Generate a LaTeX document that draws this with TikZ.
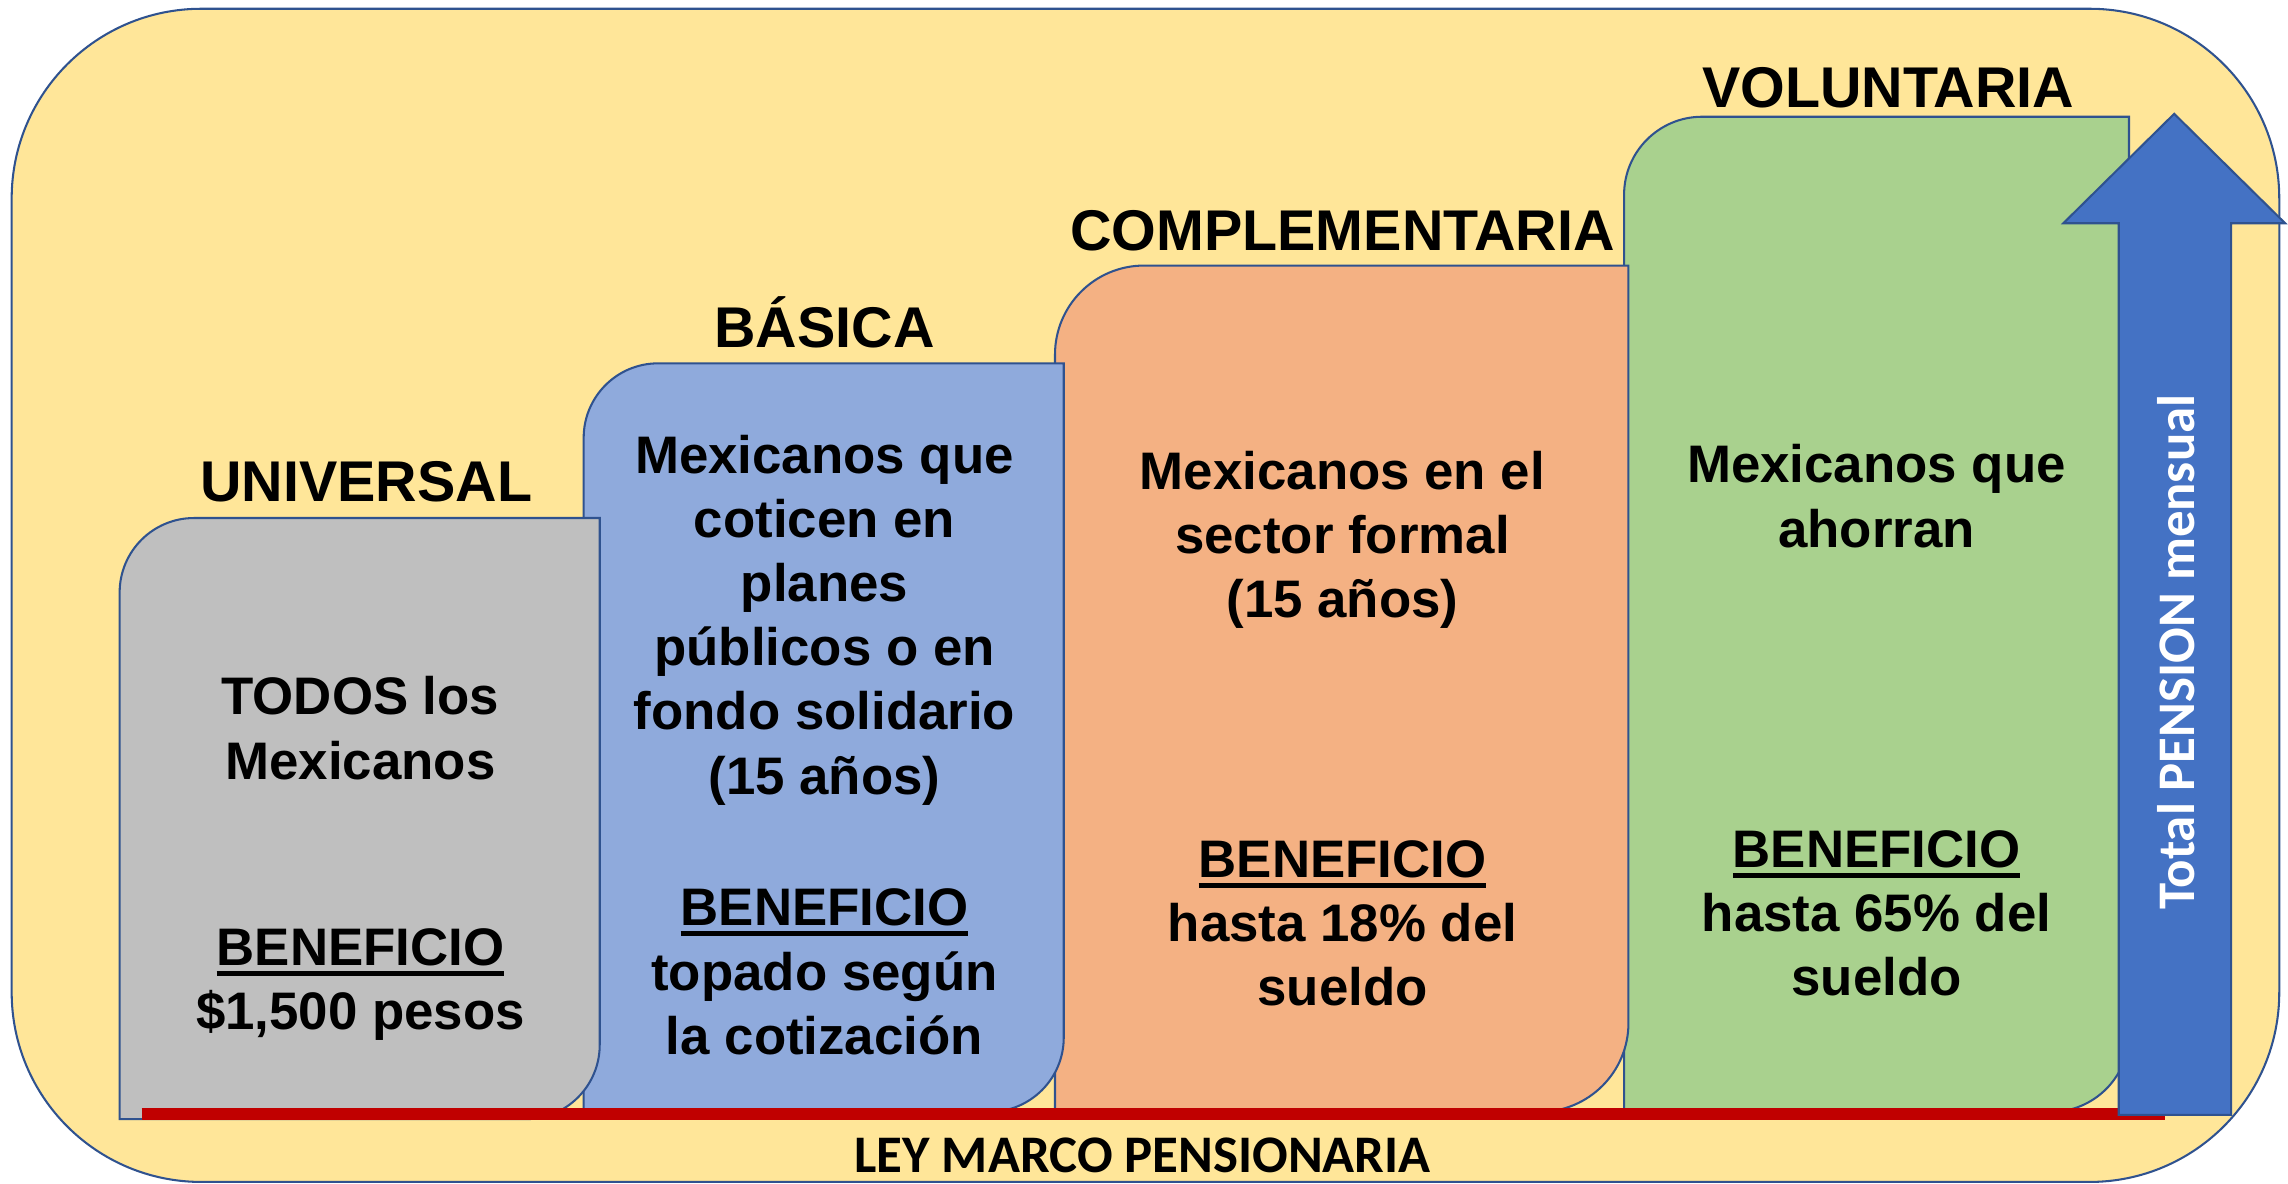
\documentclass[tikz,border=0pt]{standalone}
\usepackage{fontspec}
\setmainfont{Liberation Sans}
\newfontfamily\calibri{Carlito}
\usetikzlibrary{arrows,shapes}
\definecolor{fondo}{HTML}{FFE699}
\definecolor{borde}{HTML}{2F528F}
\definecolor{gris}{HTML}{BFBFBF}
\definecolor{azul}{HTML}{8FAADC}
\definecolor{naranja}{HTML}{F4B183}
\definecolor{verde}{HTML}{A9D18E}
\definecolor{flecha}{HTML}{4472C4}
\definecolor{rojo}{HTML}{C00000}
\newsavebox\cajasub
\newcommand{\subrayado}[1]{\sbox\cajasub{#1}\rlap{\rule[-4pt]{\wd\cajasub}{2pt}}\usebox\cajasub}

\begin{document}
\begin{tikzpicture}[x=0.02cm,y=-0.02cm,
        caja/.style={draw=borde,line width=0.8pt},
        titulo/.style={anchor=base,font=\fontsize{22.4}{27}\selectfont\bfseries},
        texto/.style={align=center,font=\fontsize{20.6}{25}\selectfont\bfseries},
        pie/.style={font=\calibri\bfseries\fontsize{20.6}{25}\selectfont}]
        \useasboundingbox (0,0) rectangle (1568,811);
        \path[caja,fill=fondo,rounded corners=2.6cm] (8,6) rectangle (1562,810);
        \path[caja,fill=verde] (1113,420) [rounded corners=1.07cm] -- (1113,80) -- (1286,80) [sharp corners] -- (1459,80) -- (1459,420) [rounded corners=1.07cm] -- (1459,762) -- (1286,762) [sharp corners] -- (1113,762) -- cycle;
        \path[caja,fill=naranja] (723,470) [rounded corners=1.22cm] -- (723,182) -- (920,182) [sharp corners] -- (1116,182) -- (1116,470) [rounded corners=1.22cm] -- (1116,762) -- (920,762) [sharp corners] -- (723,762) -- cycle;
        \path[caja,fill=azul] (400,500) [rounded corners=1.02cm] -- (400,249) -- (565,249) [sharp corners] -- (729,249) -- (729,500) [rounded corners=1.02cm] -- (729,762) -- (565,762) [sharp corners] -- (400,762) -- cycle;
        \path[caja,fill=gris] (82,560) [rounded corners=1.02cm] -- (82,355) -- (247,355) [sharp corners] -- (411,355) -- (411,560) [rounded corners=1.02cm] -- (411,767) -- (247,767) [sharp corners] -- (82,767) -- cycle;
        \coordinate (leyIzq) at (97,763.5);
        \coordinate (leyDer) at (1484,763.5);
        \draw[rojo,line width=4.7pt] (leyIzq) -- (leyDer);
        \path[caja,fill=flecha] (1452,764) -- (1452,153) -- (1414,153) -- (1490,78) -- (1566,153) -- (1529,153) -- (1529,764) -- cycle;
        \node[titulo](universal)at(251, 344){UNIVERSAL};
        \node[titulo](basica)at(565, 238){BÁSICA};
        \node[titulo](complementaria)at(920, 172){COMPLEMENTARIA};
        \node[titulo](voluntaria)at(1294, 74){VOLUNTARIA};
        \node[texto](todos)at(247, 499){TODOS los\\Mexicanos};
        \node[texto](benefUniversal)at(247, 675){\subrayado{BENEFICIO}\\\$1,500 pesos};
        \node[texto](coticen)at(565, 425){Mexicanos que\\coticen en\\planes\\públicos o en\\fondo solidario\\(15 años)};
        \node[texto](benefBasica)at(565, 666){\subrayado{BENEFICIO}\\topado según\\la cotización};
        \node[texto](formal)at(920, 370){Mexicanos en el\\sector formal\\(15 años)};
        \node[texto](benefComplementaria)at(920, 633){\subrayado{BENEFICIO}\\hasta 18\% del\\sueldo};
        \node[texto](ahorran)at(1286, 340){Mexicanos que\\ahorran};
        \node[texto](benefVoluntaria)at(1286, 626){\subrayado{BENEFICIO}\\hasta 65\% del\\sueldo};
        \node[pie,rotate=90,text=white](totalPension)at(1491, 447){Total PENSION mensual};
        \node[pie](leyMarco)at(783, 792){LEY MARCO PENSIONARIA};
    \end{tikzpicture}
\end{document}
